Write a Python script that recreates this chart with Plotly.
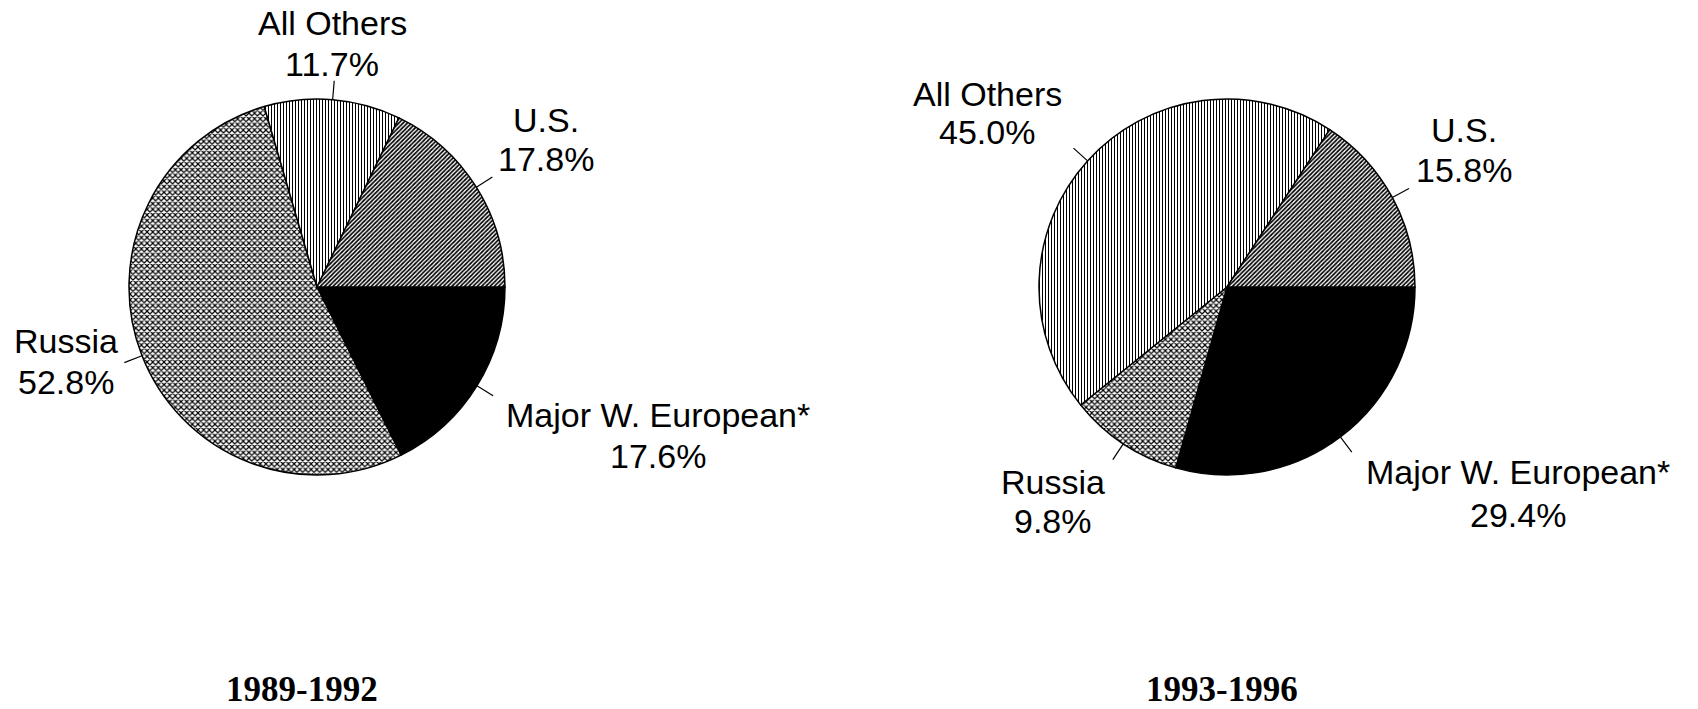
import math
import plotly.graph_objects as go

W, H = 1698, 709

# ---- data ----
labels = ["Major W. European*", "Russia", "All Others", "U.S."]
values_1989_1992 = [17.6, 52.8, 11.7, 17.8]
values_1993_1996 = [29.4, 9.8, 45.0, 15.8]
period_titles = ["1989-1992", "1993-1996"]

# ---- styles ----
slice_colors = ["black", "white", "white", "white"]
pattern_shapes = ["", "x", "|", "/"]
pattern_sizes = [6, 4, 3, 3]
pattern_solidity = [0.5, 0.5, 0.35, 0.55]

# ---- layout positions (pixels) ----
pie_centers = [(317, 287), (1227, 287)]
R = 188
title_pos = [(302, 689), (1222, 689)]
# label -> (x, y of name line, y of value line)
label_pos = [
    {"All Others": (332, 23, 64), "U.S.": (546, 120, 159),
     "Russia": (66, 341, 382), "Major W. European*": (658, 415, 456)},
    {"All Others": (987, 94, 132), "U.S.": (1464, 130, 170),
     "Russia": (1053, 482, 521), "Major W. European*": (1518, 472, 515)},
]

LABEL_FONT = dict(family="Liberation Sans, Arial, sans-serif", size=34, color="black")
TITLE_FONT = dict(family="Liberation Serif, Times New Roman, serif", size=35, color="black",
                  weight="bold")


def px(x, y):
    return x / W, 1 - y / H


fig = go.Figure()
annotations = []
shapes = []

for k, vals in enumerate([values_1989_1992, values_1993_1996]):
    cx, cy = pie_centers[k]
    fig.add_trace(go.Pie(
        labels=labels,
        values=vals,
        sort=False,
        direction="clockwise",
        rotation=90,
        textinfo="none",
        hoverinfo="label+value",
        showlegend=False,
        domain=dict(x=[(cx - R) / W, (cx + R) / W],
                    y=[(H - cy - R) / H, (H - cy + R) / H]),
        marker=dict(
            colors=slice_colors,
            line=dict(color="black", width=1.5),
            pattern=dict(shape=pattern_shapes, size=pattern_sizes,
                         solidity=pattern_solidity, fgcolor="black",
                         bgcolor="white", fillmode="replace"),
        ),
    ))

    total = sum(vals)
    cum = 0.0
    for lab, v in zip(labels, vals):
        mid = -(cum + v / 2) / total * 2 * math.pi
        cum += v
        x0, y0 = cx + R * math.cos(mid), cy - R * math.sin(mid)
        x1, y1 = cx + (R + 19) * math.cos(mid), cy - (R + 19) * math.sin(mid)
        p0, p1 = px(x0, y0), px(x1, y1)
        shapes.append(dict(type="line", xref="paper", yref="paper",
                           x0=p0[0], y0=p0[1], x1=p1[0], y1=p1[1],
                           line=dict(color="black", width=1.2)))
        lx, ly1, ly2 = label_pos[k][lab]
        for txt, ly in [(lab, ly1), (f"{v:.1f}%", ly2)]:
            ax_, ay_ = px(lx, ly)
            annotations.append(dict(text=txt, x=ax_, y=ay_, xref="paper", yref="paper",
                                    xanchor="center", yanchor="middle", showarrow=False,
                                    font=LABEL_FONT))

    tx, ty = px(*title_pos[k])
    annotations.append(dict(text=f"<b>{period_titles[k]}</b>", x=tx, y=ty,
                            xref="paper", yref="paper", xanchor="center",
                            yanchor="middle", showarrow=False, font=TITLE_FONT))

fig.update_layout(
    width=W, height=H,
    margin=dict(l=0, r=0, t=0, b=0),
    paper_bgcolor="white",
    plot_bgcolor="white",
    annotations=annotations,
    shapes=shapes,
)

fig.write_html("out.html",
               config={"displayModeBar": False},
               post_script="document.body.style.margin='0';document.body.style.overflow='hidden';")
